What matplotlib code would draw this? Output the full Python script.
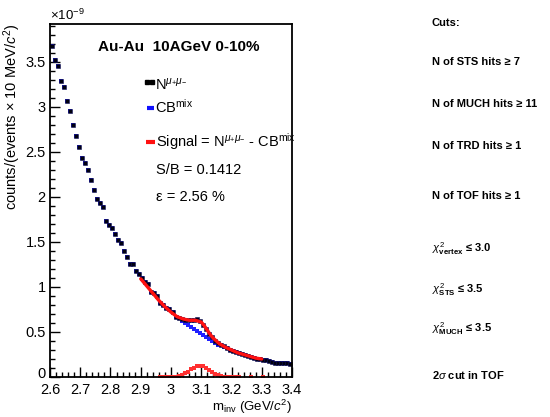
import numpy as np
import matplotlib
matplotlib.use("Agg")
import matplotlib.pyplot as plt
import matplotlib.transforms as mtransforms
from matplotlib.ticker import MultipleLocator

plt.rcParams['font.family'] = ['Liberation Sans', 'DejaVu Sans']
plt.rcParams['mathtext.fontset'] = 'custom'
plt.rcParams['mathtext.rm'] = 'Liberation Sans'
plt.rcParams['mathtext.it'] = 'Liberation Sans:italic'
plt.rcParams['mathtext.bf'] = 'Liberation Sans:bold'

# ---- data (values in units of 1e-9) ----
bin_centers = np.round(np.arange(2.605, 3.4, 0.01), 3)

n_mumu = [3.68, 3.52, 3.45, 3.29, 3.22, 3.06, 2.95, 2.80, 2.68, 2.55,
          2.43, 2.38, 2.30, 2.19, 2.08, 1.98, 1.93, 1.89, 1.73, 1.69,
          1.65, 1.59, 1.52, 1.49, 1.40, 1.33, 1.26, 1.26, 1.18, 1.14,
          1.10, 1.06, 1.03, 0.94, 0.93, 0.90, 0.82, 0.80, 0.77, 0.75,
          0.72, 0.67, 0.66, 0.64, 0.63, 0.63, 0.63, 0.63, 0.64, 0.62,
          0.58, 0.53, 0.48, 0.44, 0.40, 0.38, 0.36, 0.34, 0.32, 0.30,
          0.29, 0.28, 0.27, 0.25, 0.24, 0.23, 0.22, 0.21, 0.20, 0.20,
          0.19, 0.19, 0.18, 0.17, 0.16, 0.15, 0.15, 0.15, 0.15, 0.14]

cb_mix = [3.68, 3.52, 3.45, 3.29, 3.22, 3.06, 2.95, 2.80, 2.68, 2.55,
          2.43, 2.38, 2.30, 2.19, 2.08, 1.98, 1.93, 1.89, 1.73, 1.69,
          1.65, 1.59, 1.52, 1.49, 1.40, 1.33, 1.26, 1.26, 1.18, 1.14,
          1.10, 1.06, 1.03, 0.94, 0.93, 0.90, 0.82, 0.80, 0.77, 0.75,
          0.72, 0.67, 0.65, 0.62, 0.60, 0.58, 0.56, 0.53, 0.51, 0.49,
          0.47, 0.44, 0.42, 0.40, 0.38, 0.36, 0.35, 0.33, 0.32, 0.30,
          0.29, 0.28, 0.27, 0.25, 0.24, 0.23, 0.22, 0.21, 0.20, 0.20,
          0.19, 0.19, 0.18, 0.17, 0.16, 0.15, 0.15, 0.15, 0.15, 0.14]

sig_x = [2.965, 2.975, 2.985, 2.995, 3.005, 3.015, 3.025, 3.035, 3.045, 3.055,
         3.065, 3.075, 3.085, 3.095, 3.105, 3.115, 3.125, 3.135, 3.145, 3.155,
         3.165, 3.175, 3.185, 3.195, 3.205, 3.215, 3.225, 3.265, 3.305]
signal = [0.0, 0.0, 0.0, 0.0, 0.0, 0.005, 0.01, 0.02, 0.04, 0.06,
          0.085, 0.105, 0.12, 0.125, 0.12, 0.10, 0.08, 0.055, 0.035, 0.02,
          0.01, 0.005, 0.0, 0.0, 0.0, 0.0, 0.0, 0.0, 0.0]

fit_x = [2.90, 2.92, 2.94, 2.96, 2.98, 3.00, 3.02, 3.04, 3.06, 3.08, 3.10,
         3.11, 3.12, 3.13, 3.14, 3.16, 3.18, 3.20, 3.22, 3.24, 3.26, 3.28, 3.30]
fit_y = [1.09, 1.01, 0.93, 0.85, 0.78, 0.72, 0.67, 0.645, 0.63, 0.63, 0.61,
         0.57, 0.52, 0.47, 0.43, 0.37, 0.33, 0.30, 0.27, 0.25, 0.23, 0.21, 0.20]

xtick_vals = [2.6, 2.7, 2.8, 2.9, 3.0, 3.1, 3.2, 3.3, 3.4]
xtick_labels = ['2.6', '2.7', '2.8', '2.9', '3', '3.1', '3.2', '3.3', '3.4']
ytick_vals = [0, 0.5, 1, 1.5, 2, 2.5, 3, 3.5]
ytick_labels = ['0', '0.5', '1', '1.5', '2', '2.5', '3', '3.5']

cuts_title = "Cuts:"
cuts = ["N of STS hits \u2265 7", "N of MUCH hits \u2265 11",
        "N of TRD hits \u2265 1", "N of TOF hits \u2265 1",
        r"$\chi^{2}_{\mathbf{vertex}}$" + " \u2264 3.0",
        r"$\chi^{2}_{\mathbf{STS}}$" + " \u2264 3.5",
        r"$\chi^{2}_{\mathbf{MUCH}}$" + " \u2264 3.5",
        r"2$\sigma$ cut in TOF"]
cut_y_px = [62, 104, 146, 196, 249, 290, 329, 375]

fig = plt.figure(figsize=(5.5, 4.17), dpi=100)
ax = fig.add_axes([50/550, 40/417, 242/550, 353/417])

ax.plot(bin_centers, cb_mix, ls='none', marker='s', ms=3.3, color='#2020ff', mew=0)
ax.plot(bin_centers, n_mumu, ls='none', marker='s', ms=3.0, color='#000010',
        mec='#101060', mew=0.4)
ax.plot(fit_x, fit_y, color='#ff1010', lw=2.4, solid_capstyle='round')
ax.plot(sig_x, signal, ls='none', marker='s', ms=2.6, color='#ff3030', mew=0)

ax.set_xlim(2.6, 3.4)
ax.set_ylim(0, 3.92)
ax.set_xticks(xtick_vals)
ax.set_xticklabels(xtick_labels)
ax.set_yticks(ytick_vals)
ax.set_yticklabels(ytick_labels)
ax.xaxis.set_minor_locator(MultipleLocator(0.02))
ax.yaxis.set_minor_locator(MultipleLocator(0.1))
ax.tick_params(which='major', direction='in', length=7, width=1, labelsize=10.5)
ax.tick_params(axis='x', which='major', pad=4.5)
ax.tick_params(axis='y', which='major', pad=3)
ax.tick_params(which='minor', direction='in', length=3.5, width=1)
for s in ax.spines.values():
    s.set_linewidth(1.3)

# nudge the "0" y label up a little so it does not collide with "2.6"
zero_lbl = ax.get_yticklabels()[0]
zero_lbl.set_transform(zero_lbl.get_transform() +
                       mtransforms.ScaledTranslation(0, 3/72, fig.dpi_scale_trans))

ax.set_xlabel(r"m$_{\mathrm{inv}}$ (GeV/$c^{2}$)", fontsize=9.5, loc='right', labelpad=0.5)
ax.set_ylabel(r"counts/(events $\times$ 10 MeV/$c^{2}$)", fontsize=10.5, loc='top', labelpad=2)
fig.text(50/550, 1 - 15/417, r"$\times$10$^{-9}$", fontsize=9.5, ha='left', va='center')

ax.text(0.53, 0.935, "Au-Au  10AGeV 0-10%", transform=ax.transAxes, fontsize=11,
        fontweight='bold', ha='center', va='center')

# legend (ROOT-style, drawn manually)
tr = ax.transAxes
ax.plot([0.400, 0.422], [0.837, 0.837], transform=tr, ls='none', marker='s', ms=2.3,
        color='k', clip_on=False)
ax.text(0.433, 0.828, r"N$^{\mu_{+}\mu_{-}}$", transform=tr, fontsize=10.5, va='center')
ax.plot([0.402, 0.430], [0.762, 0.762], transform=tr, color='#1010ff', lw=3,
        solid_capstyle='butt', clip_on=False)
ax.text(0.433, 0.765, r"CB$^{\mathrm{mix}}$", transform=tr, fontsize=10.5, va='center')
ax.plot([0.397, 0.434], [0.667, 0.667], transform=tr, color='#ff1010', lw=3,
        solid_capstyle='butt', clip_on=False)
ax.text(0.437, 0.668, r"Signal = N$^{\mu_{+}\mu_{-}}$ - CB$^{\mathrm{mix}}$", transform=tr,
        fontsize=10.5, va='center')
ax.text(0.437, 0.586, "S/B = 0.1412", transform=tr, fontsize=10.5, va='center')
ax.text(0.437, 0.51, "\u03b5 = 2.56 %", transform=tr, fontsize=10.5, va='center')

fig.text(432/550, 1 - 23/417, cuts_title, fontsize=8, fontweight='bold', va='center')
for t, yp in zip(cuts, cut_y_px):
    fig.text(432/550, 1 - yp/417, t, fontsize=8, fontweight='bold', va='center')

fig.savefig("out.png", dpi=100)
